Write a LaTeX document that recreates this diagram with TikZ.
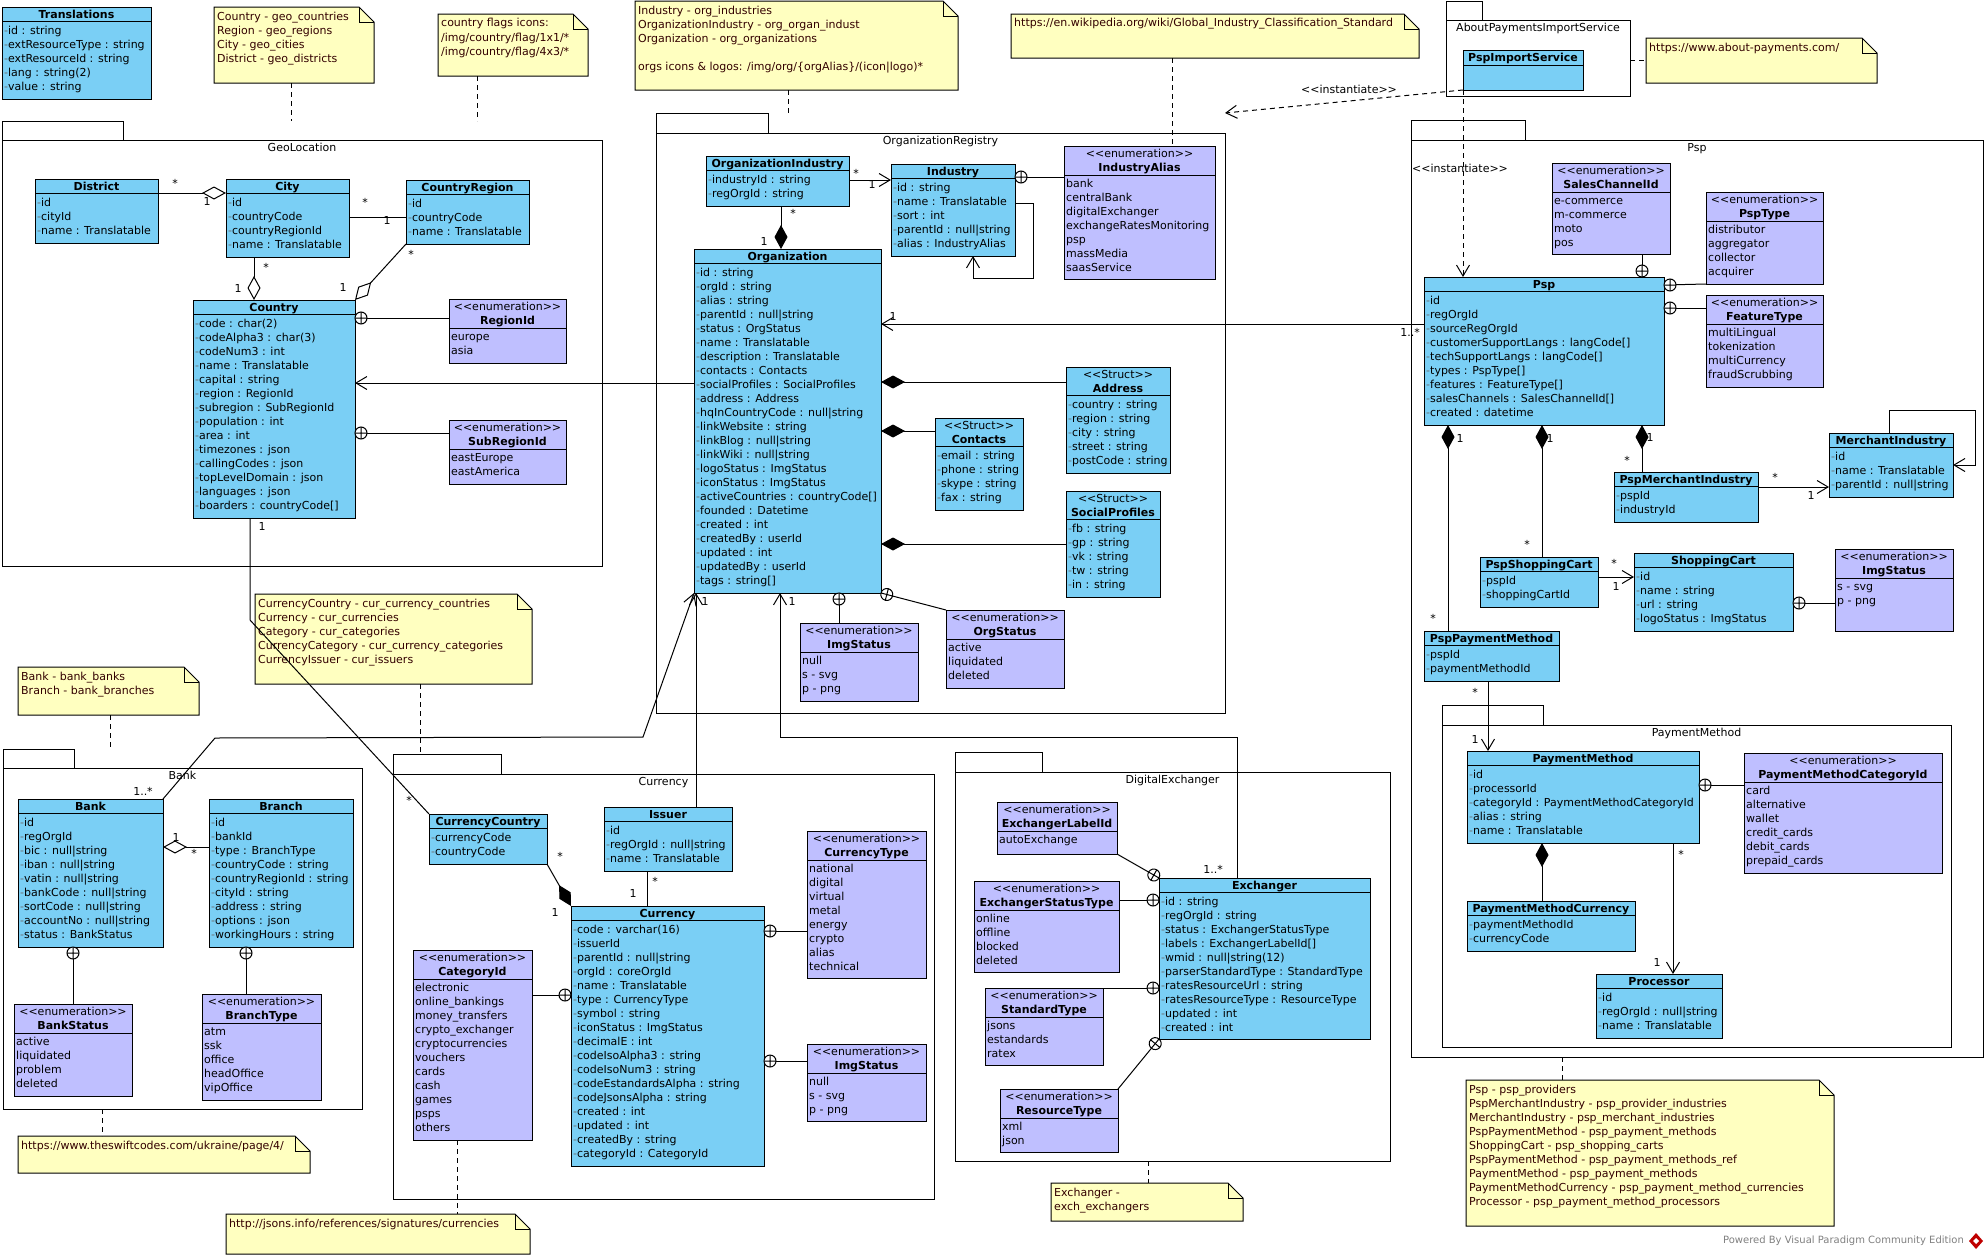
\documentclass[tikz,border=0pt]{standalone}
\usepackage{fontspec}
\setmainfont{DejaVu Sans}
\usetikzlibrary{arrows.meta,calc}
\definecolor{clsblue}{RGB}{122,207,245}
\definecolor{enumpurple}{RGB}{191,191,255}
\definecolor{noteyellow}{RGB}{255,255,192}
\definecolor{notetext}{RGB}{51,0,0}
\definecolor{dashgray}{RGB}{110,110,110}
\pgfdeclarelayer{pkglayer}
\pgfdeclarelayer{connlayer}
\pgfsetlayers{pkglayer,connlayer,main}
\newcommand\dfs{\fontsize{11}{14}\selectfont}
\newcommand\stE{<\kern0pt<enumeration>\kern0pt>}
\newcommand\stS{<\kern0pt<Struct>\kern0pt>}
\newcommand\stI{<\kern0pt<instantiate>\kern0pt>}
\tikzset{
  boxframe/.style={draw=black, line width=1pt, inner sep=0pt, outer sep=0pt, anchor=north west},
  attrtxt/.style={anchor=base west, inner sep=0pt, font=\dfs},
  titletxt/.style={anchor=base, inner sep=0pt, font=\dfs\bfseries},
  stereotxt/.style={anchor=base, inner sep=0pt, font=\dfs},
  lbl/.style={inner sep=0pt, font=\dfs},
  assoc/.style={draw=black, line width=1pt},
  nav/.style={assoc, -{Straight Barb[length=11pt,width=13pt]}},
  aggr/.style={assoc, -{Diamond[length=24pt,width=13pt,fill=white]}},
  comp/.style={assoc, -{Diamond[length=24pt,width=13pt]}},
  notelink/.style={draw=black, line width=1pt, dash pattern=on 5pt off 4pt},
  dep/.style={notelink, -{Straight Barb[length=11pt,width=13pt]}},
}
% class: name x y w h title attrs
\newcommand\klass[7]{%
  \node[boxframe, fill=clsblue, minimum width=#4pt, minimum height=#5pt] (#1) at (#2,#3) {};
  \node[titletxt] (#1-t) at ({#2+#4/2},{#3+11}) {#6};
  \draw[line width=1pt] (#2,{#3+14}) -- ({#2+#4},{#3+14});
  \foreach \aitem [count=\ai from 0] in {#7} {\node[attrtxt] (#1-a\ai) at ({#2+2},{#3+27+14*\ai}) {{\color{dashgray}-}\aitem};}%
}
% enumeration: name x y w h title items
\newcommand\enumb[7]{%
  \node[boxframe, fill=enumpurple, minimum width=#4pt, minimum height=#5pt] (#1) at (#2,#3) {};
  \node[stereotxt] (#1-s) at ({#2+#4/2},{#3+11}) {\stE};
  \node[titletxt] (#1-t) at ({#2+#4/2},{#3+25}) {#6};
  \draw[line width=1pt] (#2,{#3+29}) -- ({#2+#4},{#3+29});
  \foreach \aitem [count=\ai from 0] in {#7} {\node[attrtxt] (#1-a\ai) at ({#2+2},{#3+41+14*\ai}) {\aitem};}%
}
% struct: name x y w h title attrs
\newcommand\structb[7]{%
  \node[boxframe, fill=clsblue, minimum width=#4pt, minimum height=#5pt] (#1) at (#2,#3) {};
  \node[stereotxt] (#1-s) at ({#2+#4/2},{#3+11}) {\stS};
  \node[titletxt] (#1-t) at ({#2+#4/2},{#3+25}) {#6};
  \draw[line width=1pt] (#2,{#3+28}) -- ({#2+#4},{#3+28});
  \foreach \aitem [count=\ai from 0] in {#7} {\node[attrtxt] (#1-a\ai) at ({#2+2},{#3+41+14*\ai}) {{\color{dashgray}-}\aitem};}%
}
% note: name x y w h lines
\newcommand\umlnote[6]{%
  \draw[line width=1pt, fill=noteyellow] (#2,#3) -- ({#2+#4-15},#3) -- ({#2+#4},{#3+15}) -- ({#2+#4},{#3+#5}) -- (#2,{#3+#5}) -- cycle;
  \draw[line width=1pt] ({#2+#4-15},#3) -- ({#2+#4-15},{#3+15}) -- ({#2+#4},{#3+15});
  \node[inner sep=0pt, outer sep=0pt, anchor=north west, minimum width=#4pt, minimum height=#5pt] (#1) at (#2,#3) {};
  \foreach \aitem [count=\ai from 0] in {#6} {\node[attrtxt, text=notetext] (#1-a\ai) at ({#2+3},{#3+13+14*\ai}) {\aitem};}%
}
% package: name x tabtop tabright bodytop right bottom label
\newcommand\umlpkg[8]{%
  \draw[line width=1pt, fill=white] (#2,#3) rectangle (#4,#5);
  \draw[line width=1pt, fill=white] (#2,#5) rectangle (#6,#7);
  \node[stereotxt] (#1-l) at ({(#2+#6)/2},{#5+11}) {#8};
  \pgfmathsetmacro\pkw{#6-#2}\pgfmathsetmacro\pkh{#7-#3}%
  \node[inner sep=0pt, outer sep=0pt, anchor=north west, minimum width=\pkw pt, minimum height=\pkh pt] (#1) at (#2,#3) {};
}
\newcommand\cplus[2]{%
  \coordinate (cpc) at (#1);
  \draw[line width=1pt, fill=white, shift={(cpc)}, rotate=#2] (0,0) circle (6) (-6,0) -- (6,0) (0,-6) -- (0,6);
}
\newcounter{lblc}
\newcommand\mlbl[3]{\stepcounter{lblc}\node[lbl] (lbl\arabic{lblc}) at (#1,#2) {#3};}

\begin{document}
\begin{tikzpicture}[x=1pt,y=-1pt]
\useasboundingbox (0,0) rectangle (1988,1258);
\begin{pgfonlayer}{pkglayer}
\fill[white] (0,0) rectangle (1988,1258);
\umlpkg{GeoPkg}{2}{121}{123}{140}{602}{566}{GeoLocation}
\umlpkg{OrgPkg}{656}{113}{768}{133}{1225}{713}{OrganizationRegistry}
\umlpkg{AboutPkg}{1446}{1}{1482}{20}{1630}{96}{AboutPaymentsImportService}
\umlpkg{PspPkg}{1411}{120}{1525}{140}{1983}{1057}{Psp}
\umlpkg{PMPkg}{1442}{705}{1543}{725}{1951}{1047}{PaymentMethod}
\umlpkg{BankPkg}{3}{749}{74}{768}{362}{1109}{Bank}
\umlpkg{CurPkg}{393}{754}{501}{774}{934}{1199}{Currency}
\umlpkg{DigExPkg}{955}{752}{1042}{772}{1390}{1161}{DigitalExchanger}
\umlnote{noteGeo}{214}{7}{160}{76}{Country - geo\_countries,Region - geo\_regions,City - geo\_cities,District - geo\_districts}
\umlnote{noteFlags}{438}{14}{150}{62}{country flags icons:,/img/country/flag/1x1/*,/img/country/flag/4x3/*}
\umlnote{noteOrg}{635}{1}{323}{89}{Industry - org\_industries,OrganizationIndustry - org\_organ\_indust,Organization - org\_organizations,{},orgs icons \& logos: /img/org/\{orgAlias\}/(icon|logo)*}
\umlnote{noteWiki}{1011}{14}{408}{44}{https://en.wikipedia.org/wiki/Global\_Industry\_Classification\_Standard}
\umlnote{noteAbout}{1646}{38}{231}{45}{https://www.about-payments.com/}
\umlnote{notePsp}{1466}{1080}{368}{146}{Psp - psp\_providers,%
PspMerchantIndustry - psp\_provider\_industries,%
MerchantIndustry - psp\_merchant\_industries,%
PspPaymentMethod - psp\_payment\_methods,%
ShoppingCart - psp\_shopping\_carts,%
PspPaymentMethod - psp\_payment\_methods\_ref,%
PaymentMethod - psp\_payment\_methods,%
PaymentMethodCurrency - psp\_payment\_method\_currencies,%
Processor - psp\_payment\_method\_processors}
\umlnote{noteBank}{18}{667}{181}{48}{Bank - bank\_banks,Branch - bank\_branches}
\umlnote{noteCur}{255}{594}{277}{90}{CurrencyCountry - cur\_currency\_countries,%
Currency - cur\_currencies,%
Category - cur\_categories,%
CurrencyCategory - cur\_currency\_categories,%
CurrencyIssuer - cur\_issuers}
\umlnote{noteSwift}{18}{1136}{292}{37}{https://www.theswiftcodes.com/ukraine/page/4/}
\umlnote{noteJsons}{226}{1214}{304}{40}{http://jsons.info/references/signatures/currencies}
\umlnote{noteExch}{1051}{1183}{192}{38}{Exchanger -,exch\_exchangers}
\end{pgfonlayer}

% ---------- classes ----------
\klass{Translations}{2}{7}{149}{92}{Translations}{id : string,extResourceType : string,extResourceId : string,lang : string(2),value : string}
\klass{District}{35}{179}{123}{64}{District}{id,cityId,name : Translatable}
\klass{City}{226}{179}{123}{78}{City}{id,countryCode,countryRegionId,name : Translatable}
\klass{CountryRegion}{406}{180}{123}{64}{CountryRegion}{id,countryCode,name : Translatable}
\klass{Country}{193}{300}{162}{218}{Country}{code : char(2),codeAlpha3 : char(3),codeNum3 : int,name : Translatable,capital : string,region : RegionId,subregion : SubRegionId,population : int,area : int,timezones : json,callingCodes : json,topLevelDomain : json,languages : json,boarders : countryCode[]}
\enumb{RegionId}{449}{299}{117}{64}{RegionId}{europe,asia}
\enumb{SubRegionId}{449}{420}{117}{64}{SubRegionId}{eastEurope,eastAmerica}
\klass{OrganizationIndustry}{706}{156}{143}{50}{OrganizationIndustry}{industryId : string,regOrgId : string}
\klass{Industry}{891}{164}{124}{92}{Industry}{id : string,name : Translatable,sort : int,parentId : null|string,alias : IndustryAlias}
\enumb{IndustryAlias}{1064}{146}{151}{133}{IndustryAlias}{bank,centralBank,digitalExchanger,exchangeRatesMonitoring,psp,massMedia,saasService}
\klass{Organization}{694}{249}{187}{344}{Organization}{id : string,orgId : string,alias : string,parentId : null|string,status : OrgStatus,name : Translatable,description : Translatable,contacts : Contacts,socialProfiles : SocialProfiles,address : Address,hqInCountryCode : null|string,linkWebsite : string,linkBlog : null|string,linkWiki : null|string,logoStatus : ImgStatus,iconStatus : ImgStatus,activeCountries : countryCode[],founded : Datetime,created : int,createdBy : userId,updated : int,updatedBy : userId,tags : string[]}
\structb{Address}{1066}{367}{104}{106}{Address}{country : string,region : string,city : string,street : string,postCode : string}
\structb{Contacts}{935}{418}{88}{92}{Contacts}{email : string,phone : string,skype : string,fax : string}
\structb{SocialProfiles}{1066}{491}{94}{106}{SocialProfiles}{fb : string,gp : string,vk : string,tw : string,in : string}
\enumb{ImgStatusOrg}{800}{623}{118}{78}{ImgStatus}{null,s - svg,p - png}
\enumb{OrgStatus}{946}{610}{118}{78}{OrgStatus}{active,liquidated,deleted}
\node[boxframe, fill=clsblue, minimum width=120pt, minimum height=40pt] (PspImportService) at (1463,50) {};
\node[titletxt] (PspImportService-t) at (1523,61) {PspImportService};
\draw[line width=1pt] (1463,65) -- (1583,65);
\klass{Psp}{1424}{277}{240}{148}{Psp}{id,regOrgId,sourceRegOrgId,customerSupportLangs : langCode[],techSupportLangs : langCode[],types : PspType[],features : FeatureType[],salesChannels : SalesChannelId[],created : datetime}
\enumb{SalesChannelId}{1552}{163}{118}{91}{SalesChannelId}{e-commerce,m-commerce,moto,pos}
\enumb{PspType}{1706}{192}{117}{92}{PspType}{distributor,aggregator,collector,acquirer}
\enumb{FeatureType}{1706}{295}{117}{92}{FeatureType}{multiLingual,tokenization,multiCurrency,fraudScrubbing}
\klass{PspMerchantIndustry}{1614}{472}{144}{50}{PspMerchantIndustry}{pspId,industryId}
\klass{MerchantIndustry}{1829}{433}{124}{64}{MerchantIndustry}{id,name : Translatable,parentId : null|string}
\klass{PspShoppingCart}{1480}{557}{118}{50}{PspShoppingCart}{pspId,shoppingCartId}
\klass{ShoppingCart}{1634}{553}{159}{78}{ShoppingCart}{id,name : string,url : string,logoStatus : ImgStatus}
\enumb{ImgStatusPsp}{1835}{549}{118}{82}{ImgStatus}{s - svg,p - png}
\klass{PspPaymentMethod}{1424}{631}{135}{50}{PspPaymentMethod}{pspId,paymentMethodId}
\klass{PaymentMethod}{1467}{751}{232}{92}{PaymentMethod}{id,processorId,categoryId : PaymentMethodCategoryId,alias : string,name : Translatable}
\enumb{PaymentMethodCategoryId}{1744}{753}{198}{120}{PaymentMethodCategoryId}{card,alternative,wallet,credit\_cards,debit\_cards,prepaid\_cards}
\klass{PaymentMethodCurrency}{1467}{901}{168}{50}{PaymentMethodCurrency}{paymentMethodId,currencyCode}
\klass{Processor}{1596}{974}{126}{64}{Processor}{id,regOrgId : null|string,name : Translatable}
\klass{Bank}{18}{799}{145}{148}{Bank}{id,regOrgId,bic : null|string,iban : null|string,vatin : null|string,bankCode : null|string,sortCode : null|string,accountNo : null|string,status : BankStatus}
\klass{Branch}{209}{799}{144}{148}{Branch}{id,bankId,type : BranchType,countryCode : string,countryRegionId : string,cityId : string,address : string,options : json,workingHours : string}
\enumb{BankStatus}{14}{1004}{118}{92}{BankStatus}{active,liquidated,problem,deleted}
\enumb{BranchType}{202}{994}{119}{106}{BranchType}{atm,ssk,office,headOffice,vipOffice}
\klass{CurrencyCountry}{429}{814}{118}{50}{CurrencyCountry}{currencyCode,countryCode}
\klass{Issuer}{604}{807}{128}{64}{Issuer}{id,regOrgId : null|string,name : Translatable}
\klass{Currency}{571}{906}{193}{260}{Currency}{code : varchar(16),issuerId,parentId : null|string,orgId : coreOrgId,name : Translatable,type : CurrencyType,symbol : string,iconStatus : ImgStatus,decimalE : int,codeIsoAlpha3 : string,codeIsoNum3 : string,codeEstandardsAlpha : string,codeJsonsAlpha : string,created : int,updated : int,createdBy : string,categoryId : CategoryId}
\enumb{CurrencyType}{807}{831}{119}{147}{CurrencyType}{national,digital,virtual,metal,energy,crypto,alias,technical}
\enumb{CategoryId}{413}{950}{119}{190}{CategoryId}{electronic,online\_bankings,money\_transfers,crypto\_exchanger,cryptocurrencies,vouchers,cards,cash,games,psps,others}
\enumb{ImgStatusCur}{807}{1044}{119}{77}{ImgStatus}{null,s - svg,p - png}
\enumb{ExchangerLabelId}{997}{802}{120}{52}{ExchangerLabelId}{autoExchange}
\enumb{ExchangerStatusType}{974}{881}{145}{91}{ExchangerStatusType}{online,offline,blocked,deleted}
\enumb{StandardType}{985}{988}{118}{77}{StandardType}{jsons,estandards,ratex}
\enumb{ResourceType}{1000}{1089}{118}{63}{ResourceType}{xml,json}
\klass{Exchanger}{1159}{878}{211}{161}{Exchanger}{id : string,regOrgId : string,status : ExchangerStatusType,labels : ExchangerLabelId[],wmid : null|string(12),parserStandardType : StandardType,ratesResourceUrl : string,ratesResourceType : ResourceType,updated : int,created : int}

% ---------- connectors ----------
\begin{pgfonlayer}{connlayer}
\draw[aggr] ($(District.north east)+(0,14)$) -- ($(City.north west)+(0,14)$);
\draw[assoc] ($(City.north east)+(0,38)$) -- ($(CountryRegion.north west)+(0,37)$);
\draw[aggr] ($(City.south west)+(28,0)$) -- ($(Country.north west)+(61,0)$);
\draw[aggr] (CountryRegion.south west) -- (Country.north east);
\draw[assoc] ($(Country.north east)+(0,18)$) -- ($(RegionId.north west)+(0,19)$);
\draw[assoc] ($(Country.north east)+(0,133)$) -- ($(SubRegionId.north west)+(0,13)$);
\draw[nav] ($(Organization.north west)+(0,134)$) -- ($(Country.north east)+(0,83)$);
\coordinate (ccBend) at (250,620);
\draw[assoc] ($(Country.south west)+(57,0)$) -- (ccBend) -- (CurrencyCountry.north west);
\draw[nav] ($(OrganizationIndustry.north east)+(0,24)$) -- ($(Industry.north west)+(0,16)$);
\draw[assoc] ($(Industry.north east)+(0,13)$) -- ($(IndustryAlias.north west)+(0,31)$);
\draw[nav] ($(Industry.north east)+(0,39)$) -- ++(18,0) -- ++(0,75) -- ($(Industry.south west)+(82,22)$) -- ($(Industry.south west)+(82,0)$);
\draw[comp] ($(OrganizationIndustry.south west)+(75,0)$) -- ($(Organization.north west)+(87,0)$);
\draw[comp] ($(Address.north west)+(0,15)$) -- ($(Organization.north east)+(0,133)$);
\draw[comp] ($(Contacts.north west)+(0,13)$) -- ($(Organization.north east)+(0,182)$);
\draw[comp] ($(SocialProfiles.north west)+(0,53)$) -- ($(Organization.north east)+(0,295)$);
\draw[assoc] ($(Organization.south west)+(145,0)$) -- ($(ImgStatusOrg.north west)+(39,0)$);
\draw[assoc] (Organization.south east) -- (OrgStatus.north west);
\draw[nav] ($(Psp.north west)+(0,47)$) -- ($(Organization.north east)+(0,75)$);
\draw[nav] ($(Issuer.north west)+(92,0)$) -- ($(Organization.south west)+(2,0)$);
\coordinate (bkA) at (215,738);
\coordinate (bkB) at (643,737);
\draw[nav] (Bank.north east) -- (bkA) -- (bkB) -- (Organization.south west);
\coordinate (exA) at (1237,737);
\coordinate (exB) at (780,737);
\draw[nav] ($(Exchanger.north west)+(78,0)$) -- (exA) -- (exB) -- ($(Organization.south west)+(86,0)$);
\draw[dep] (PspImportService.south west) -- (OrgPkg.north east);
\draw[dep] (PspImportService.south west) -- ($(Psp.north west)+(39,0)$);
\draw[notelink] ($(AboutPkg.north east)+(0,59)$) -- ($(noteAbout.north west)+(0,22)$);
\draw[assoc] ($(SalesChannelId.south west)+(90,0)$) -- ($(Psp.north west)+(218,0)$);
\draw[assoc] ($(Psp.north east)+(0,8)$) -- (PspType.south west);
\draw[assoc] ($(Psp.north east)+(0,31)$) -- ($(FeatureType.north west)+(0,13)$);
\draw[comp] ($(PspPaymentMethod.north west)+(24,0)$) -- ($(Psp.south west)+(24,0)$);
\draw[comp] ($(PspShoppingCart.north west)+(62,0)$) -- ($(Psp.south west)+(118,0)$);
\draw[comp] ($(PspMerchantIndustry.north west)+(28,0)$) -- ($(Psp.south west)+(218,0)$);
\draw[nav] ($(PspMerchantIndustry.north east)+(0,15)$) -- ($(MerchantIndustry.north west)+(0,54)$);
\draw[nav] ($(MerchantIndustry.north west)+(60,0)$) -- ++(0,-23) -- ++(86,0) -- ($(MerchantIndustry.north east)+(22,32)$) -- ($(MerchantIndustry.north east)+(0,32)$);
\draw[nav] ($(PspShoppingCart.north east)+(0,20)$) -- ($(ShoppingCart.north west)+(0,24)$);
\draw[assoc] ($(ShoppingCart.north east)+(0,50)$) -- ($(ImgStatusPsp.north west)+(0,54)$);
\draw[nav] ($(PspPaymentMethod.south west)+(64,0)$) -- ($(PaymentMethod.north west)+(21,0)$);
\draw[assoc] ($(PaymentMethod.north east)+(0,34)$) -- ($(PaymentMethodCategoryId.north west)+(0,32)$);
\draw[comp] ($(PaymentMethodCurrency.north west)+(75,0)$) -- ($(PaymentMethod.south west)+(75,0)$);
\draw[nav] ($(PaymentMethod.south west)+(206,0)$) -- ($(Processor.north west)+(77,0)$);
\draw[notelink] ($(PspPkg.south west)+(151,0)$) -- ($(notePsp.north west)+(96,0)$);
\draw[aggr] ($(Branch.north west)+(0,48)$) -- ($(Bank.north east)+(0,48)$);
\draw[assoc] ($(Bank.south west)+(55,0)$) -- ($(BankStatus.north west)+(59,0)$);
\draw[assoc] ($(Branch.south west)+(37,0)$) -- ($(BranchType.north west)+(44,0)$);
\draw[notelink] ($(noteBank.south west)+(92,0)$) -- ($(BankPkg.north west)+(107,0)$);
\draw[notelink] ($(BankPkg.south west)+(99,0)$) -- ($(noteSwift.north west)+(84,0)$);
\draw[assoc] ($(Issuer.south west)+(43,0)$) -- ($(Currency.north west)+(76,0)$);
\draw[comp] (CurrencyCountry.south east) -- (Currency.north west);
\draw[assoc] ($(Currency.north east)+(0,25)$) -- ($(CurrencyType.north west)+(0,100)$);
\draw[assoc] ($(CategoryId.north east)+(0,45)$) -- ($(Currency.north west)+(0,89)$);
\draw[assoc] ($(Currency.north east)+(0,155)$) -- ($(ImgStatusCur.north west)+(0,17)$);
\draw[notelink] ($(noteCur.south west)+(165,0)$) -- ($(CurPkg.north west)+(27,0)$);
\draw[notelink] ($(CategoryId.south west)+(44,0)$) -- ($(noteJsons.north west)+(231,0)$);
\draw[assoc] (ExchangerLabelId.south east) -- (Exchanger.north west);
\draw[assoc] ($(ExchangerStatusType.north east)+(0,19)$) -- ($(Exchanger.north west)+(0,22)$);
\draw[assoc] (StandardType.north east) -- ($(Exchanger.north west)+(0,110)$);
\draw[assoc] (ResourceType.north east) -- (Exchanger.south west);
\draw[notelink] ($(DigExPkg.south west)+(193,0)$) -- ($(noteExch.north west)+(97,0)$);
\draw[notelink] ($(noteGeo.south west)+(77,0)$) -- ($(GeoPkg.north west)+(289,0)$);
\draw[notelink] ($(noteFlags.south west)+(39,0)$) -- ($(GeoPkg.north west)+(475,0)$);
\draw[notelink] ($(noteOrg.south west)+(153,0)$) -- ($(OrgPkg.north west)+(132,0)$);
\draw[notelink] ($(noteWiki.south west)+(161,0)$) -- ($(IndustryAlias.north west)+(108,0)$);
\end{pgfonlayer}

% ---------- containment circles ----------
\cplus{$(Country.north east)+(6,18)$}{0}
\cplus{$(Country.north east)+(6,133)$}{0}
\cplus{$(Industry.north east)+(6,13)$}{0}
\cplus{$(Organization.south west)+(145,6)$}{0}
\cplus{$(Organization.south east)+(5.8,1.5)$}{-14.7}
\cplus{$(Psp.north west)+(218,-6)$}{0}
\cplus{$(Psp.north east)+(6,8)$}{0}
\cplus{$(Psp.north east)+(6,31)$}{0}
\cplus{$(ShoppingCart.north east)+(6,50)$}{0}
\cplus{$(PaymentMethod.north east)+(6,34)$}{0}
\cplus{$(Bank.south west)+(55,6)$}{0}
\cplus{$(Branch.south west)+(37,6)$}{0}
\cplus{$(Currency.north east)+(6,25)$}{0}
\cplus{$(Currency.north west)+(-6,89)$}{0}
\cplus{$(Currency.north east)+(6,155)$}{0}
\cplus{$(Exchanger.north west)+(-5.2,-3)$}{-29.7}
\cplus{$(Exchanger.north west)+(-6,22)$}{0}
\cplus{$(Exchanger.north west)+(-6,110)$}{0}
\cplus{$(Exchanger.south west)+(-3.8,4.6)$}{50.6}

% ---------- multiplicities ----------
\mlbl{175}{183}{*}\mlbl{207}{201}{1}
\mlbl{365}{202}{*}\mlbl{387}{220}{1}
\mlbl{266}{267}{*}\mlbl{238}{288}{1}
\mlbl{411}{254}{*}\mlbl{343}{287}{1}
\mlbl{262}{526}{1}\mlbl{409}{800}{*}
\mlbl{856}{173}{*}\mlbl{872}{184}{1}
\mlbl{793}{213}{*}\mlbl{764}{241}{1}
\mlbl{893}{316}{1}\mlbl{1410}{332}{1..*}
\mlbl{705}{601}{1}\mlbl{792}{601}{1}
\mlbl{143}{791}{1..*}\mlbl{1213}{869}{1..*}
\mlbl{1460}{438}{1}\mlbl{1433}{618}{*}
\mlbl{1550}{438}{1}\mlbl{1527}{544}{*}
\mlbl{1650}{437}{1}\mlbl{1627}{460}{*}
\mlbl{1775}{477}{*}\mlbl{1811}{495}{1}
\mlbl{1614}{563}{*}\mlbl{1616}{586}{1}
\mlbl{1475}{692}{*}\mlbl{1475}{739}{1}
\mlbl{1681}{854}{*}\mlbl{1657}{962}{1}
\mlbl{176}{837}{1}\mlbl{194}{853}{*}
\mlbl{655}{881}{*}\mlbl{633}{893}{1}
\mlbl{560}{856}{*}\mlbl{555}{912}{1}
\mlbl{1349}{89}{\stI}
\mlbl{1460}{168}{\stI}

\node[anchor=east, inner sep=0pt, font=\fontsize{10}{12}\selectfont, text=black!50] (powered) at (1964,1241) {Powered By Visual Paradigm Community Edition};
\fill[red!75!black] (1976,1233) -- (1983,1241) -- (1976,1249) -- (1969,1241) -- cycle;
\fill[white] (1976,1238) -- (1979,1241) -- (1976,1244) -- (1973,1241) -- cycle;
\end{tikzpicture}
\end{document}
